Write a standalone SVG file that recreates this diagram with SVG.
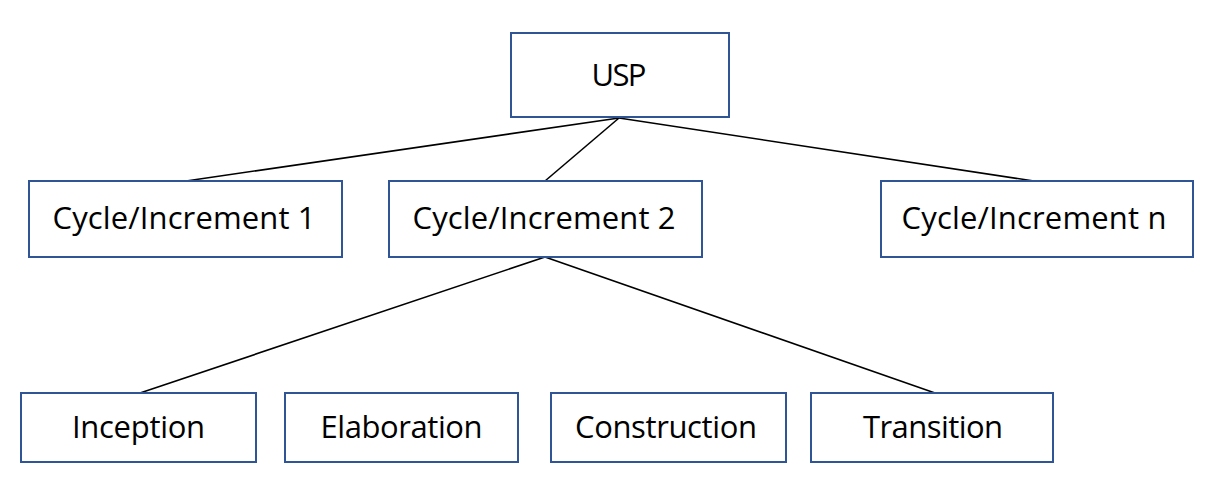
<svg xmlns="http://www.w3.org/2000/svg" width="1220" height="488" viewBox="0 0 1220 488">
<style>
.box{fill:#ffffff;stroke:#2F5597;stroke-width:2}
.lbl{font-family:"Open Sans","Liberation Sans",sans-serif;font-size:31px;fill:#000000;text-anchor:middle}
.conn line{stroke:#000000;stroke-width:1.6}
</style>
<rect width="1220" height="488" fill="#ffffff"/>
<g id="connectors" class="conn">
<line x1="619" y1="118" x2="186" y2="181"/>
<line x1="619" y1="118" x2="545" y2="181"/>
<line x1="619" y1="118" x2="1034" y2="181"/>
<line x1="545" y1="257" x2="140" y2="393"/>
<line x1="545" y1="257" x2="935" y2="393"/>
</g>
<g id="usp"><rect class="box" x="511" y="33" width="218" height="84"/><text class="lbl" x="619" y="86" textLength="55">USP</text></g>
<g id="cycle1"><rect class="box" x="29" y="181" width="313" height="76"/><text class="lbl" x="184" y="229" textLength="263">Cycle/Increment 1</text></g>
<g id="cycle2"><rect class="box" x="389" y="181" width="313" height="76"/><text class="lbl" x="544" y="229" textLength="263">Cycle/Increment 2</text></g>
<g id="cyclen"><rect class="box" x="881" y="181" width="312" height="76"/><text class="lbl" x="1034" y="229" textLength="265">Cycle/Increment n</text></g>
<g id="inception"><rect class="box" x="21" y="393" width="235" height="69"/><text class="lbl" x="138.5" y="438" textLength="133">Inception</text></g>
<g id="elaboration"><rect class="box" x="285" y="393" width="233" height="69"/><text class="lbl" x="401.5" y="438" textLength="162">Elaboration</text></g>
<g id="construction"><rect class="box" x="551" y="393" width="235" height="69"/><text class="lbl" x="666" y="438" textLength="182">Construction</text></g>
<g id="transition"><rect class="box" x="811" y="393" width="242" height="69"/><text class="lbl" x="933" y="438" textLength="140">Transition</text></g>
</svg>
